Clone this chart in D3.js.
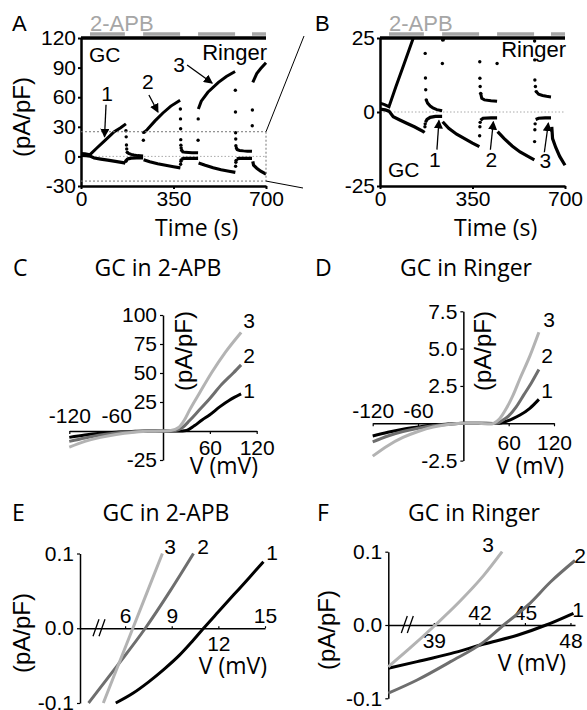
<!DOCTYPE html>
<html>
<head>
<meta charset="utf-8">
<script src="https://cdn.jsdelivr.net/npm/d3@7"></script>
<style>
  body { margin: 0; background: #fff; }
  svg { display: block; }
</style>
</head>
<body>
<svg id="fig" width="587" height="710"></svg>
<script>
// ---- data: time course (t in s, current in pA/pF), read off panels A and B
// outward current, continuous pieces
const outSeg1 = [[0,3],[15,2.6],[34,1.8],[60,8.5],[90,16],[126,25],[150,29],[170,33]];
const outSeg1r = [[175,4.1],[180,3],[190,2],[200,1.4],[215,0.8],[235,0.4]];
const outSeg2 = [[238,24],[250,27],[280,36],[310,44],[340,51],[375,57]];
const outSeg2r = [[381,6.3],[385,4.6],[395,4.1],[420,3.8],[443,3.6]];
const outSeg3 = [[444,48],[455,56],[480,65],[520,75],[550,81],[583,86]];
const outSeg3r = [[591,6.9],[600,6],[615,5.6],[630,5.3],[647,5.1]];
const outSeg4 = [[650,75],[665,84],[680,89],[700,95]];
// sparse samples during the fast jumps
const outJumps = [[170,26],[171,19.8],[172,11.5],[173,7.5],[175,4.1],
  [236,16.4],[237,24.3],
  [376,48],[376.5,38],[377,28],[377.5,17],[378,11.4],[379,8.6],[381,6.3],
  [443,16.4],[443.5,38],
  [584,67],[584.5,45],[585,24],[585.5,17.6],[586,10.8],[588,8.6],[591,6.9],
  [648,31],[648.5,47]];
// inward current
const inSeg1 = [[0,1],[20,0.7],[34,0.3],[50,-1.6],[75,-2.7],[101,-3.8],[130,-5],[164,-6.6],[168,-7]];
const inSeg1r = [[172,-3.5],[178,-2.5],[190,-1.8],[210,-1.5],[235,-1.5]];
const inSeg2 = [[237,-3.3],[260,-5.5],[290,-7.5],[320,-9],[350,-10.5],[376,-11.7]];
const inSeg2r = [[380,-2.8],[390,-2.1],[420,-2],[443,-2]];
const inSeg3 = [[445,-6.6],[470,-9],[500,-11.5],[530,-13.5],[560,-15],[584,-16.2]];
const inSeg3r = [[589,-2.5],[600,-2.1],[625,-2],[647,-2]];
const inSeg4 = [[650,-5],[653,-9],[665,-12],[680,-15],[700,-18]];
const inJumps = [[170,-5],[171,-4],[377,-8],[378,-5],[379,-3.5],[585,-10],[586,-6],[587,-4]];

// 2-APB application periods (s)
const apbOn = [34, 235, 443, 647];
const apbOff = [166, 375, 583, 700];

const timeTicks = [0, 350, 700];
const aTicks = [-30, 0, 30, 60, 90, 120];
const bTicks = [-25, 0, 25];

// ---- data: I-V curves (mV, pA/pF)
const c1 = [[-120,-5.5],[-100,-3.5],[-80,-2],[-60,-1],[-40,-0.4],[-20,0],[0,0],[20,0],[30,0.5],[40,4.5],[50,9.5],[60,14],[73,21],[85,26.5],[100,32]];
const c2 = [[-120,-9],[-100,-6],[-80,-3.5],[-60,-1.8],[-40,-0.7],[-20,-0.1],[0,0],[15,0.3],[25,3],[34,9],[45,17],[60,28],[75,40],[90,50],[100,57]];
const c3 = [[-120,-14],[-100,-9],[-80,-5.5],[-60,-3],[-40,-1.2],[-20,-0.3],[0,0],[10,0.5],[20,3],[27,9],[34,18],[47,33],[62,50],[80,68],[100,85]];
const d1 = [[-120,-0.85],[-100,-0.6],[-80,-0.4],[-60,-0.25],[-40,-0.12],[-20,-0.05],[0,0],[20,0],[40,-0.01],[47,0],[55,0.1],[65,0.3],[75,0.55],[88,1.0],[100,1.6]];
const d2 = [[-120,-1.25],[-100,-0.85],[-80,-0.55],[-60,-0.33],[-40,-0.16],[-20,-0.06],[0,0],[20,0],[40,-0.02],[44,0],[52,0.2],[60,0.5],[70,1.1],[80,1.9],[90,2.7],[100,3.6]];
const d3c = [[-120,-2.2],[-100,-1.5],[-80,-0.95],[-60,-0.55],[-40,-0.25],[-20,-0.08],[0,0],[20,0],[36,-0.05],[40,0],[48,0.3],[57,1.0],[66,1.9],[75,3.0],[88,4.5],[100,6.1]];
const ivTicksX = [-120, -60, 60, 120];
const cTicksY = [-25, 25, 50, 75, 100];
const dTicksY = [-2.5, 2.5, 5.0, 7.5];

// ---- data: reversal potential close-ups
const e1 = [[5.4,-0.1],[6.5,-0.087],[7.5,-0.072],[8.5,-0.055],[9.5,-0.036],[10.3,-0.018],[11.05,0],[12,0.022],[13,0.045],[14,0.068],[14.9,0.089]];
const e2 = [[3.65,-0.1],[5.5,-0.05],[7.3,0],[8.9,0.05],[10.4,0.1]];
const e3 = [[4.6,-0.1],[6.5,0],[8.4,0.1]];
const f1 = [[36,-0.059],[37.9,-0.05],[40.1,-0.039],[42.3,-0.026],[44.5,-0.014],[46.4,0],[48.2,0.016]];
const f2 = [[36,-0.093],[37.9,-0.075],[40.1,-0.05],[42.3,-0.023],[43.6,0],[45.2,0.027],[46.7,0.059],[48.3,0.088]];
const f3 = [[36,-0.057],[37.4,-0.032],[39.1,0],[40.7,0.032],[42.3,0.068],[43.5,0.1]];
const eTicksX = [6, 9, 12, 15];
const fTicksX = [39, 42, 45, 48];
const smallTicksY = [-0.1, 0, 0.1];

// ========================================================================
const svg = d3.select("#fig");
const arial = '"Liberation Sans", Arial, sans-serif';
const cal = '"Open Sans", sans-serif';
const black = "#000", dark = "#6e6e6e", light = "#b3b3b3";
// plain hyphen for negative numbers, like the original figure
const fmt = f => d => d3.format(f)(d).replace("\u2212", "-");

svg.append("rect").attr("width", 587).attr("height", 710).attr("fill", "#fff");

svg.append("defs").append("marker")
  .attr("id", "arr").attr("viewBox", "0 0 8 8").attr("refX", 7).attr("refY", 4)
  .attr("markerWidth", 7).attr("markerHeight", 7).attr("orient", "auto")
  .append("path").attr("d", "M0,0L8,4L0,8z").attr("fill", "#000");

function label(x, y, s, size, font, anchor, fill) {
  return svg.append("text").attr("x", x).attr("y", y).text(s)
    .attr("font-size", size).attr("font-family", font || arial)
    .attr("text-anchor", anchor || "start").attr("fill", fill || "#000");
}
function vlabel(cx, cy, s, size) {
  svg.append("text").attr("transform", `translate(${cx},${cy}) rotate(-90)`)
    .attr("text-anchor", "middle").attr("dy", "0.35em")
    .attr("font-size", size).attr("font-family", arial).text(s);
}
function styleAxis(g, w, fs) {
  g.select(".domain").attr("stroke-width", w);
  g.selectAll(".tick line").attr("stroke-width", w * 0.8);
  g.selectAll("text").attr("font-size", fs).attr("font-family", arial).attr("fill", "#000");
}

// ---- panels A and B --------------------------------------------------------
const xA = d3.scaleLinear().domain([0, 700]).range([81, 266]);
const yA = d3.scaleLinear().domain([-30, 120]).range([186, 38]);
const xB = d3.scaleLinear().domain([0, 700]).range([380, 565]);
const yB = d3.scaleLinear().domain([-25, 25]).range([186, 38]);

const outSegs = [outSeg1, outSeg1r, outSeg2, outSeg2r, outSeg3, outSeg3r, outSeg4];
const inSegs = [inSeg1, inSeg1r, inSeg2, inSeg2r, inSeg3, inSeg3r, inSeg4];

function timePanel(id, x, y, yTicks, ringerY, gcY) {
  const x0 = x.range()[0], x1 = x.range()[1], top = y.range()[1], bot = y.range()[0];
  svg.select("defs").append("clipPath").attr("id", id)
    .append("rect").attr("x", x0).attr("y", top).attr("width", x1 - x0 + 2).attr("height", bot - top);

  // dotted zero line
  svg.append("line").attr("x1", x0).attr("x2", x1).attr("y1", y(0)).attr("y2", y(0))
    .attr("stroke", "#aaa").attr("stroke-width", 1).attr("stroke-dasharray", "1.5,2");

  const g = svg.append("g").attr("clip-path", `url(#${id})`);
  const line = d3.line().x(d => x(d[0])).y(d => y(d[1]));
  g.selectAll("path.out").data(outSegs).join("path").attr("class", "out")
    .attr("d", line).attr("fill", "none").attr("stroke", black).attr("stroke-width", 3);
  g.selectAll("path.in").data(inSegs).join("path").attr("class", "in")
    .attr("d", line).attr("fill", "none").attr("stroke", black).attr("stroke-width", 3.2);
  g.selectAll("circle.j").data(outJumps.concat(inJumps)).join("circle").attr("class", "j")
    .attr("cx", d => x(d[0])).attr("cy", d => y(d[1])).attr("r", 1.7).attr("fill", black);

  const ay = svg.append("g").attr("transform", `translate(${x0},0)`)
    .call(d3.axisLeft(y).tickValues(yTicks).tickFormat(fmt("d")).tickSize(3).tickSizeOuter(0).tickPadding(2));
  styleAxis(ay, 2.5, 21);
  const ax = svg.append("g").attr("transform", `translate(0,${bot})`)
    .call(d3.axisBottom(x).tickValues(timeTicks).tickSize(3).tickSizeOuter(0).tickPadding(2));
  styleAxis(ax, 2.5, 21);

  // Ringer bar on top and 2-APB periods above it
  svg.append("line").attr("x1", x0).attr("x2", x1).attr("y1", top).attr("y2", top)
    .attr("stroke", "#000").attr("stroke-width", 3.5);
  svg.selectAll(null).data(apbOn).join("line")
    .attr("x1", d => x(d)).attr("x2", (d, i) => x(apbOff[i])).attr("y1", top - 4).attr("y2", top - 4)
    .attr("stroke", "#a6a6a6").attr("stroke-width", 3.5);
  label(x(apbOn[0]), 31, "2-APB", 22, arial, "start", "#a6a6a6");
  label(x1 + 1, ringerY, "Ringer", 22, arial, "end");
  label(x0 + 8, gcY, "GC", 21);
  label(x(280), 236, "Time (s)", 23, cal);
}
timePanel("clipA", xA, yA, aTicks, 60, 62);
timePanel("clipB", xB, yB, bTicks, 57, 177);

label(12, 31, "A", 22);
label(315, 31, "B", 22);
vlabel(22, 117, "(pA/pF)", 24);

// dashed zoom box in A and connecting lines to B
[25, -25].forEach(v => {
  svg.append("line").attr("x1", xA(0)).attr("x2", xA(700)).attr("y1", yA(v)).attr("y2", yA(v))
    .attr("stroke", "#777").attr("stroke-width", 1).attr("stroke-dasharray", "2,2");
});
svg.append("line").attr("x1", xA(700)).attr("x2", xA(700)).attr("y1", yA(25)).attr("y2", yA(-25))
  .attr("stroke", "#777").attr("stroke-width", 1).attr("stroke-dasharray", "2,2");
svg.append("line").attr("x1", xA(700)).attr("y1", yA(25)).attr("x2", xA(700) + 38).attr("y2", yB(25) - 2)
  .attr("stroke", "#000").attr("stroke-width", 1);
svg.append("line").attr("x1", xA(700)).attr("y1", yA(-25)).attr("x2", xA(700) + 37).attr("y2", yB(-25) + 2)
  .attr("stroke", "#000").attr("stroke-width", 1);

// numbered arrows
const arrowsA = [
  { n: "1", tip: [89, 20], tail: [1.5, -32], lab: [2.5, -43] },
  { n: "2", tip: [291, 45], tail: [-9, -17], lab: [-10, -30] },
  { n: "3", tip: [496, 74.4], tail: [-25, -18], lab: [-33, -18] }
];
const arrowsB = [
  { n: "1", tip: [223, -2.9], tail: [-2, 29], lab: [-4, 39] },
  { n: "2", tip: [429, -3.3], tail: [-3, 28], lab: [-2, 38] },
  { n: "3", tip: [637, -3.8], tail: [-4, 29], lab: [-3, 37] }
];
function drawArrows(list, x, y) {
  list.forEach(a => {
    const tx = x(a.tip[0]), ty = y(a.tip[1]);
    svg.append("line").attr("x1", tx + a.tail[0]).attr("y1", ty + a.tail[1]).attr("x2", tx).attr("y2", ty)
      .attr("stroke", "#000").attr("stroke-width", 1.3).attr("marker-end", "url(#arr)");
    label(tx + a.lab[0], ty + a.lab[1], a.n, 21, arial, "middle").attr("dy", "0.35em");
  });
}
drawArrows(arrowsA, xA, yA);
drawArrows(arrowsB, xB, yB);

// ---- panels C and D --------------------------------------------------------
const xC = d3.scaleLinear().domain([-120, 120]).range([69.3, 256.7]);
const yC = d3.scaleLinear().domain([-25, 100]).range([460, 315]);
const xD = d3.scaleLinear().domain([-120, 120]).range([372.7, 554]);
const yD = d3.scaleLinear().domain([-2.5, 7.5]).range([460.6, 311.3]);

function ivPanel(x, y, yTicks, yFmt, curves, aboveY, belowY, ends) {
  const ay = svg.append("g").attr("transform", `translate(${x(0)},0)`)
    .call(d3.axisLeft(y).tickValues(yTicks).tickFormat(yFmt).tickSize(3).tickSizeOuter(0).tickPadding(3));
  styleAxis(ay, 1.5, 21);
  const ax = svg.append("g").attr("transform", `translate(0,${y(0)})`)
    .call(d3.axisBottom(x).tickValues(ivTicksX).tickFormat(fmt("d")).tickSize(3).tickSizeOuter(0).tickPadding(6));
  styleAxis(ax, 1.5, 21);
  ax.selectAll(".tick text").filter(d => d < 0).attr("y", aboveY).attr("dy", 0);
  ax.selectAll(".tick text").filter(d => d > 0).attr("y", belowY);
  const line = d3.line().curve(d3.curveMonotoneX).x(d => x(d[0])).y(d => y(d[1]));
  svg.selectAll(null).data(curves).join("path")
    .attr("d", d => line(d.pts)).attr("fill", "none").attr("stroke", d => d.col).attr("stroke-width", 3);
  curves.forEach((c, i) => label(ends[i][0], ends[i][1], c.n, 21, arial, "middle").attr("dy", "0.35em"));
}
ivPanel(xC, yC, cTicksY, fmt("d"),
  [{ pts: c1, col: black, n: "1" }, { pts: c2, col: dark, n: "2" }, { pts: c3, col: light, n: "3" }],
  -8, 9, [[249, 391], [249, 356], [249, 321]]);
ivPanel(xD, yD, dTicksY, fmt(".1f"),
  [{ pts: d1, col: black, n: "1" }, { pts: d2, col: dark, n: "2" }, { pts: d3c, col: light, n: "3" }],
  -5, 12, [[547, 391], [547, 356], [549, 320]]);

label(13, 276, "C", 23, cal);
label(315, 276, "D", 23, cal);
label(158, 276, "GC in 2-APB", 23, cal, "middle");
label(466, 276, "GC in Ringer", 23, cal, "middle");
vlabel(184, 351, "(pA/pF)", 24);
vlabel(483, 351, "(pA/pF)", 24);
label(224, 474, "V (mV)", 23, cal, "middle");
label(530, 474, "V (mV)", 23, cal, "middle");

// ---- panels E and F --------------------------------------------------------
const xE = d3.scaleLinear().domain([3.1, 15]).range([80, 265]);
const yE = d3.scaleLinear().domain([-0.1, 0.1]).range([703, 553.5]);
const xF = d3.scaleLinear().domain([36, 48.3]).range([388.3, 575]);
const yF = d3.scaleLinear().domain([-0.1, 0.1]).range([698.3, 551.7]);

function revPanel(x, y, xTicks, above, curves, ends) {
  const ay = svg.append("g").attr("transform", `translate(${x.range()[0]},0)`)
    .call(d3.axisLeft(y).tickValues(smallTicksY).tickFormat(fmt(".1f")).tickSize(3).tickSizeOuter(0).tickPadding(3));
  styleAxis(ay, 1.5, 21);
  const ax = svg.append("g").attr("transform", `translate(0,${y(0)})`)
    .call(d3.axisBottom(x).tickValues(xTicks).tickSize(3).tickSizeOuter(0).tickPadding(6));
  styleAxis(ax, 1.5, 21);
  ax.selectAll(".tick line").attr("y1", -2).attr("y2", 0);
  ax.selectAll(".tick text").filter(d => above.includes(d)).attr("y", -5).attr("dy", 0);
  ax.selectAll(".tick text").filter(d => !above.includes(d)).attr("y", 8);
  // axis break
  const bx = x.range()[0] + 16, by = y(0);
  [0, 6].forEach(o => svg.append("line")
    .attr("x1", bx + o - 3).attr("y1", by + 8).attr("x2", bx + o + 3).attr("y2", by - 9)
    .attr("stroke", "#000").attr("stroke-width", 1.3));
  const line = d3.line().curve(d3.curveMonotoneX).x(d => x(d[0])).y(d => y(d[1]));
  svg.selectAll(null).data(curves).join("path")
    .attr("d", d => line(d.pts)).attr("fill", "none").attr("stroke", d => d.col).attr("stroke-width", 3);
  curves.forEach((c, i) => label(ends[i][0], ends[i][1], c.n, 21, arial, "middle").attr("dy", "0.35em"));
}
revPanel(xE, yE, eTicksX, [6, 9, 15],
  [{ pts: e1, col: black, n: "1" }, { pts: e2, col: dark, n: "2" }, { pts: e3, col: light, n: "3" }],
  [[272, 553], [203, 547], [170, 547]]);
revPanel(xF, yF, fTicksX, [42, 45],
  [{ pts: f1, col: black, n: "1" }, { pts: f2, col: dark, n: "2" }, { pts: f3, col: light, n: "3" }],
  [[578, 610], [580, 556], [488, 545]]);

label(12, 521, "E", 23, cal);
label(317, 521, "F", 23, cal);
label(166, 521, "GC in 2-APB", 23, cal, "middle");
label(474, 521, "GC in Ringer", 23, cal, "middle");
vlabel(22, 633, "(pA/pF)", 24);
vlabel(327, 630, "(pA/pF)", 24);
label(233, 674, "V (mV)", 23, cal, "middle");
label(532, 671, "V (mV)", 23, cal, "middle");
</script>
</body>
</html>
